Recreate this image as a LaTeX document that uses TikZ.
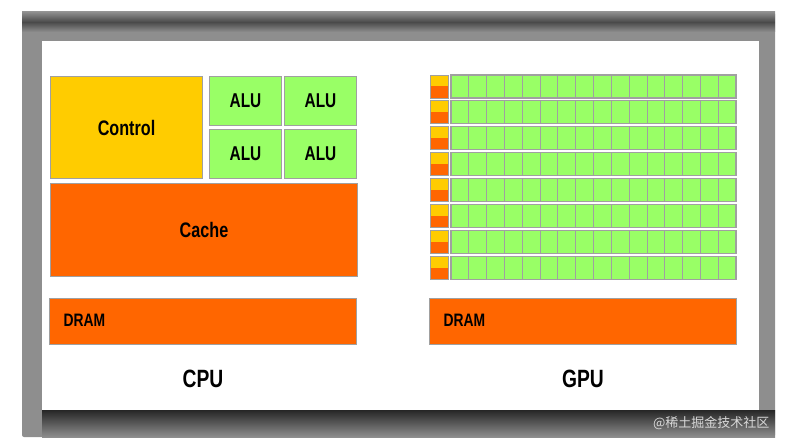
\documentclass[tikz,border=0pt]{standalone}
\usepackage{fontspec}
\usepackage{tikz}
\usepackage{xcolor}
\setmainfont{Liberation Sans}[FakeStretch=0.77]
\newfontfamily\cjkfont{Noto Sans CJK SC}
\definecolor{ctrlyellow}{HTML}{FFCC00}
\definecolor{cacheorange}{HTML}{FF6600}
\definecolor{alugreen}{HTML}{99FF66}
\definecolor{boxgray}{HTML}{A0A0A0}
\definecolor{framegray}{HTML}{8E8E8E}
\definecolor{framedark}{HTML}{4A4A4A}
\tikzset{
        chip_box/.style={draw=boxgray, line width=1pt, inner sep=0pt, anchor=north west},
        ctrl_box/.style={chip_box, fill=ctrlyellow, font=\bfseries\fontsize{21}{25}\selectfont},
        alu_box/.style={chip_box, fill=alugreen, minimum width=72pt, minimum height=49pt,
                        font=\bfseries\fontsize{20}{24}\selectfont},
        cache_box/.style={chip_box, fill=cacheorange, font=\bfseries\fontsize{21}{25}\selectfont},
        dram_box/.style={chip_box, fill=cacheorange, minimum width=307pt, minimum height=46pt},
        dram_text/.style={anchor=mid west, font=\bfseries\fontsize{18}{22}\selectfont},
        chip_title/.style={font=\bfseries\fontsize{25}{30}\selectfont},
        cell_line/.style={draw=boxgray, line width=0.8pt}
    }

\begin{document}
\begin{tikzpicture}[x=1pt, y=-1pt]
    \useasboundingbox (0,0) rectangle (792,443);
    % frame with shadow
    \fill[framegray, rounded corners=2pt] (22,12) rectangle (775,437);
    \shade[top color=framegray, bottom color=framegray, middle color=framedark]
        (22,12) rectangle (775,32);
    \shade[top color=black!85, bottom color=framegray] (42,410) rectangle (775,437);
    \fill[white] (42,41) rectangle (759,410);
    \node[anchor=mid east, text=white!70!gray, font=\cjkfont\fontsize{13}{15}\selectfont]
        (mark) at (773,425) {@稀土掘金技术社区};

    % CPU
    \node[ctrl_box, minimum width=152pt, minimum height=102pt] (control) at (50,76) {Control};
    \node[alu_box] (alu1) at (209,76) {ALU};
    \node[alu_box] (alu2) at (284,76) {ALU};
    \node[alu_box] (alu3) at (209,129) {ALU};
    \node[alu_box] (alu4) at (284,129) {ALU};
    \node[cache_box, minimum width=307pt, minimum height=93pt] (cache) at (50,183) {Cache};
    \node[dram_box] (cpu_dram) at (49,298) {};
    \node[dram_text] (cpu_dram_txt) at (60,324) {DRAM};
    \node[chip_title] (cpu) at (203,379) {CPU};

    % GPU
    \foreach \r in {0,...,7} {
        \pgfmathsetmacro\rowtop{75+\r*25.9}
        \fill[ctrlyellow] (430,\rowtop) rectangle ++(18,11.5);
        \fill[cacheorange] (430,\rowtop+11.5) rectangle ++(18,11.5);
        \draw[cell_line] (430,\rowtop) rectangle ++(18,23);
        \fill[alugreen] (451,\rowtop) rectangle ++(285,23);
        \foreach \c in {0,...,15}
            \draw[cell_line] ({451+\c*17.8125},\rowtop) rectangle ++(17.8125,23);
        \draw[draw=boxgray, line width=1.2pt] (451,\rowtop) rectangle ++(285,23);
    }
    \node[dram_box] (gpu_dram) at (429,298) {};
    \node[dram_text] (gpu_dram_txt) at (440,324) {DRAM};
    \node[chip_title] (gpu) at (583,379) {GPU};
\end{tikzpicture}
\end{document}
